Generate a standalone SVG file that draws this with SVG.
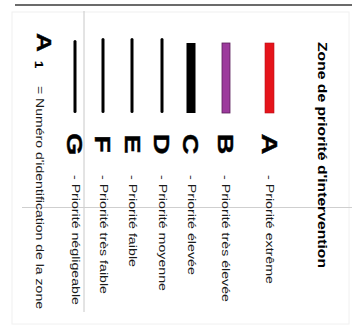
<svg xmlns="http://www.w3.org/2000/svg" width="352" height="329" viewBox="0 0 352 329">
  <style>
    .t { font-family: "Liberation Sans", Arial, sans-serif; fill: #1a1a1a; }
    .big { font-family: "Liberation Sans", Arial, sans-serif; font-weight: bold; font-size: 22px; fill: #000; stroke: #000; stroke-width: 0.4; }
    .title { font-family: "Liberation Sans", Arial, sans-serif; font-weight: bold; font-size: 12px; fill: #000; }
    .small { font-size: 10px; }
    .thin { fill: #000; }
  </style>
  <rect x="0" y="0" width="352" height="329" fill="#fff"/>
  <rect x="12" y="12" width="337" height="312" fill="none" stroke="#f0f0f0" stroke-width="1"/>
  <g id="frame">
    <line x1="15" y1="5" x2="352" y2="5" stroke="#6b6b6b" stroke-width="2"/>
    <line x1="84" y1="11" x2="84" y2="312" stroke="#c8c8c8" stroke-width="1"/>
    <line x1="22" y1="207.5" x2="352" y2="207.5" stroke="#cfcfcf" stroke-width="1"/>
  </g>
  <g id="title">
    <text class="title" transform="translate(318,42) rotate(90)" textLength="226" lengthAdjust="spacingAndGlyphs">Zone de priorité d'intervention</text>
  </g>
  <g id="zone-A">
    <rect x="265" y="43" width="9" height="70" fill="#e5141b" stroke="#b81018" stroke-width="0.6"/>
    <text class="big" transform="translate(261.5,144) rotate(90) scale(1.3,1)" text-anchor="middle">A</text>
    <text class="t small" transform="translate(265.5,175) rotate(90)" textLength="109" lengthAdjust="spacingAndGlyphs">- Priorité extrême</text>
  </g>
  <g id="zone-B">
    <rect x="222" y="43" width="8" height="70" fill="#9c3a9c" stroke="#5a1f5a" stroke-width="0.8"/>
    <text class="big" transform="translate(218,144) rotate(90) scale(1.3,1)" text-anchor="middle">B</text>
    <text class="t small" transform="translate(222,175) rotate(90)" textLength="127" lengthAdjust="spacingAndGlyphs">- Priorité très élevée</text>
  </g>
  <g id="zone-C">
    <rect x="186.5" y="43" width="9" height="70" fill="#000"/>
    <text class="big" transform="translate(183,144) rotate(90) scale(1.3,1)" text-anchor="middle">C</text>
    <text class="t small" transform="translate(187.5,175) rotate(90)" textLength="100" lengthAdjust="spacingAndGlyphs">- Priorité élevée</text>
  </g>
  <g id="zone-D">
    <rect x="160.5" y="38" width="3" height="75" rx="1.5" class="thin"/>
    <text class="big" transform="translate(154,144) rotate(90) scale(1.3,1)" text-anchor="middle">D</text>
    <text class="t small" transform="translate(158.5,175) rotate(90)" textLength="116" lengthAdjust="spacingAndGlyphs">- Priorité moyenne</text>
  </g>
  <g id="zone-E">
    <rect x="130.5" y="38" width="3" height="75" rx="1.5" class="thin"/>
    <text class="big" transform="translate(124.5,144) rotate(90) scale(1.3,1)" text-anchor="middle">E</text>
    <text class="t small" transform="translate(128.5,175) rotate(90)" textLength="92" lengthAdjust="spacingAndGlyphs">- Priorité faible</text>
  </g>
  <g id="zone-F">
    <rect x="101.5" y="38" width="3" height="75" rx="1.5" class="thin"/>
    <text class="big" transform="translate(95,144) rotate(90) scale(1.3,1)" text-anchor="middle">F</text>
    <text class="t small" transform="translate(99.5,175) rotate(90)" textLength="119" lengthAdjust="spacingAndGlyphs">- Priorité très faible</text>
  </g>
  <g id="zone-G">
    <rect x="73.5" y="40" width="3" height="73" rx="1.5" class="thin"/>
    <text class="big" transform="translate(67,144) rotate(90) scale(1.3,1)" text-anchor="middle">G</text>
    <text class="t small" transform="translate(71.5,175) rotate(90)" textLength="130" lengthAdjust="spacingAndGlyphs">- Priorité négligeable</text>
  </g>
  <g id="legend">
    <text class="big" style="font-size:21px" transform="translate(37,33) rotate(90) scale(1.25,1)">A</text>
    <text class="big" style="font-size:11px;stroke-width:0.2" transform="translate(35,61) rotate(90) scale(1.2,1)">1</text>
    <text class="t small" transform="translate(35.5,86) rotate(90)" textLength="223" lengthAdjust="spacingAndGlyphs">= Numéro d'identification de la zone</text>
  </g>
</svg>
